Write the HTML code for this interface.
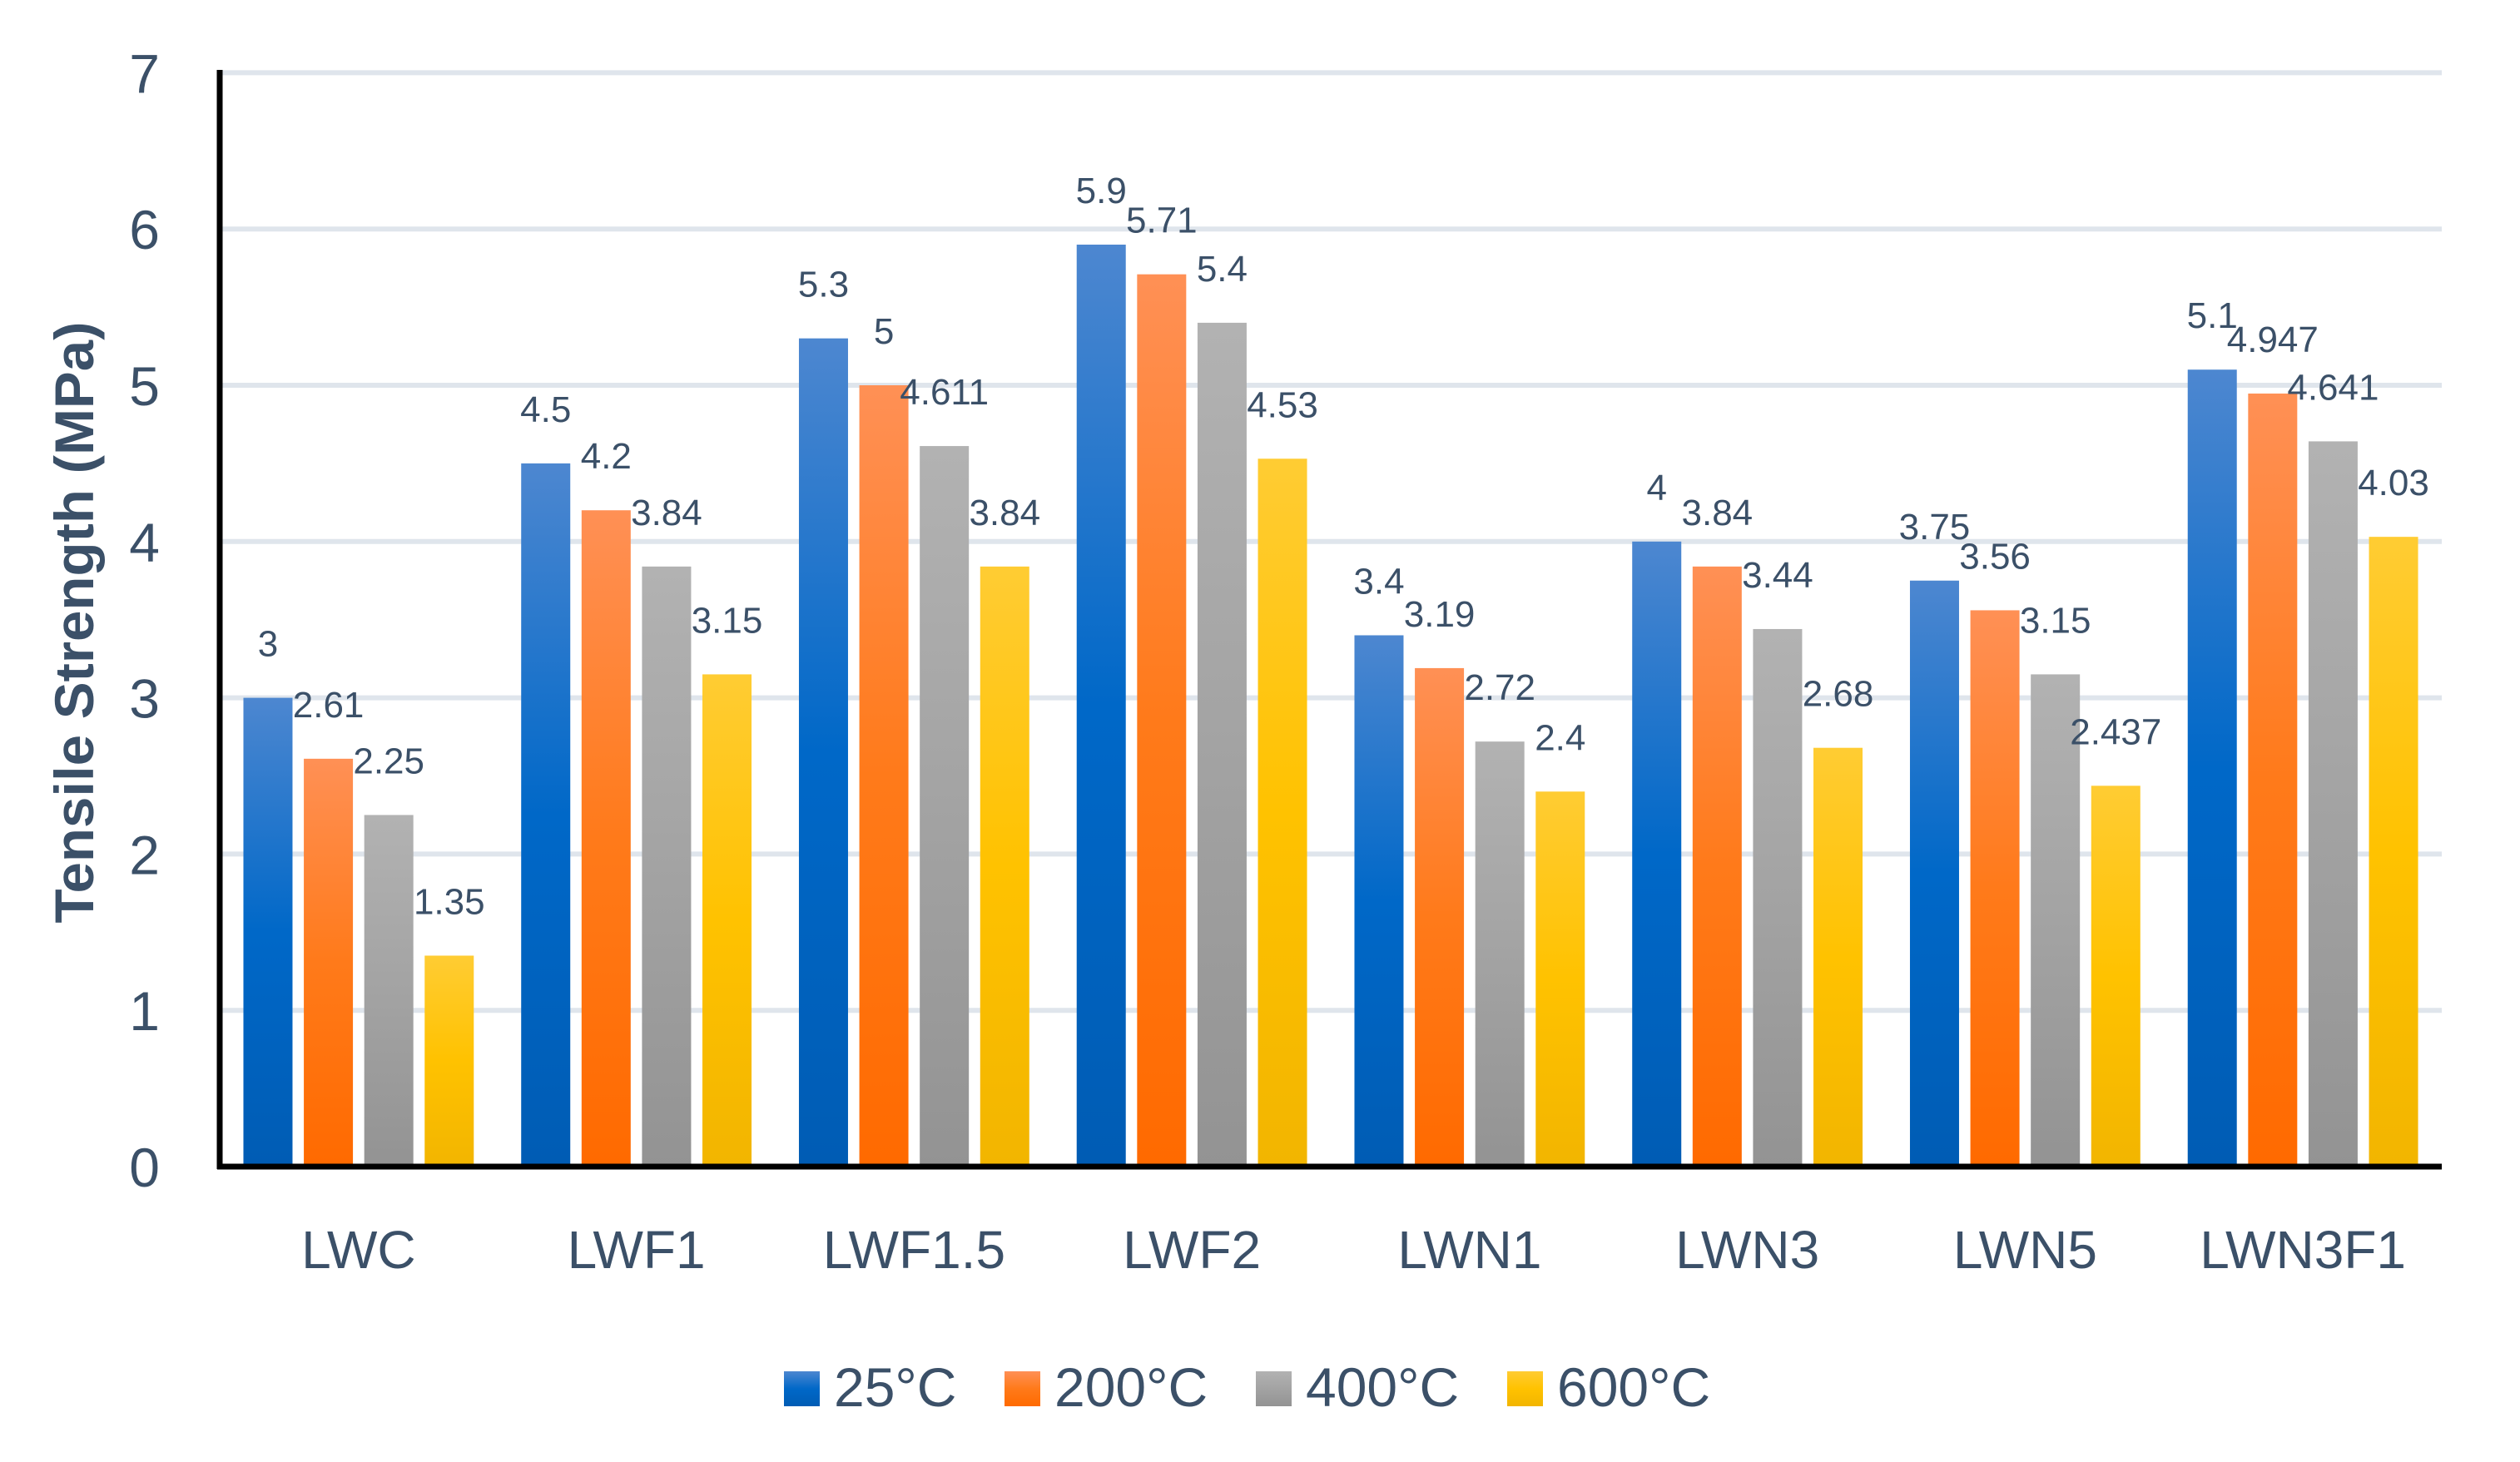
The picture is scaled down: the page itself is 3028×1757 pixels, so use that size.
<!DOCTYPE html>
<html><head><meta charset="utf-8"><style>
html,body{margin:0;padding:0;background:#fff;}
svg{display:block;font-family:"Liberation Sans",sans-serif;}
</style></head><body>
<svg id="chart" width="3028" height="1757" viewBox="0 0 3028 1757">
<defs>
<linearGradient id="g0" x1="0" y1="0" x2="0" y2="1"><stop offset="0" stop-color="#4d87d0"/><stop offset="0.5" stop-color="#0068c8"/><stop offset="1" stop-color="#005cb4"/></linearGradient>
<linearGradient id="g1" x1="0" y1="0" x2="0" y2="1"><stop offset="0" stop-color="#ff9055"/><stop offset="0.5" stop-color="#ff7a1a"/><stop offset="1" stop-color="#ff6a00"/></linearGradient>
<linearGradient id="g2" x1="0" y1="0" x2="0" y2="1"><stop offset="0" stop-color="#b2b2b2"/><stop offset="0.5" stop-color="#a3a3a3"/><stop offset="1" stop-color="#939393"/></linearGradient>
<linearGradient id="g3" x1="0" y1="0" x2="0" y2="1"><stop offset="0" stop-color="#ffcc33"/><stop offset="0.5" stop-color="#ffc200"/><stop offset="1" stop-color="#f2b500"/></linearGradient>
</defs>
<g id="grid"></g>
<g id="bars"></g>
<g id="labels"></g>
<g id="axes"></g>
<text transform="translate(112,748) rotate(-90)" text-anchor="middle" font-size="66" font-weight="bold" fill="#3b5068" textLength="723" lengthAdjust="spacingAndGlyphs">Tensile Strength  (MPa)</text>
<g id="legend"></g>
</svg>
<script>
const categories = ["LWC","LWF1","LWF1.5","LWF2","LWN1","LWN3","LWN5","LWN3F1"];
const seriesNames = ["25°C","200°C","400°C","600°C"];
const s25 = [3, 4.5, 5.3, 5.9, 3.4, 4, 3.75, 5.1];
const s200 = [2.61, 4.2, 5, 5.71, 3.19, 3.84, 3.56, 4.947];
const s400 = [2.25, 3.84, 4.611, 5.4, 2.72, 3.44, 3.15, 4.641];
const s600 = [1.35, 3.15, 3.84, 4.53, 2.4, 2.68, 2.437, 4.03];
const yTicks = [0,1,2,3,4,5,6,7];

const NS = "http://www.w3.org/2000/svg";
const series = [s25, s200, s400, s600];
const fills = ["url(#g0)","url(#g1)","url(#g2)","url(#g3)"];
const legendFills = ["url(#g0)","url(#g1)","url(#g2)","url(#g3)"];
const L = 264, R = 2934, Y0 = 1402, UNIT = 187.8;
const catW = (R - L) / categories.length;
const barW = 59, stride = 72.6;
function y(v){ return Y0 - v * UNIT; }
function xBar(ci, si){ return L + ci * catW + (catW - (4 * stride - (stride - barW))) / 2 + si * stride; }
function mk(tag, attrs, parent){ const e = document.createElementNS(NS, tag); for (const k in attrs) e.setAttribute(k, attrs[k]); parent.appendChild(e); return e; }

const grid = document.getElementById('grid');
const axes = document.getElementById('axes');
yTicks.forEach(t => {
  if (t > 0) {
    const g = mk('line', {x1: L, x2: R, y1: y(t), y2: y(t), stroke: '#dfe5ec', 'stroke-width': 6}, grid);
    
    
  }
  const tl = mk('text', {x: 192, y: y(t) + 24, 'text-anchor': 'end', 'font-size': 66, fill: '#3b5068'}, axes);
  tl.textContent = t;
  
  
});

const bars = document.getElementById('bars');
const labels = document.getElementById('labels');
categories.forEach((c, ci) => {
  series.forEach((s, si) => {
    const v = s[ci];
    const x = xBar(ci, si);
    const r = mk('rect', {x: x, y: y(v), width: barW, height: Y0 - y(v), fill: fills[si]}, bars);
    
    
    const t = mk('text', {x: x + barW / 2, y: y(v) - 50, 'text-anchor': 'middle', 'font-size': 44, fill: '#3b5068'}, labels);
    t.textContent = v;
    
    
  });
  const cl = mk('text', {x: L + ci * catW + catW / 2, y: 1524, 'text-anchor': 'middle', 'font-size': 64, fill: '#3b5068'}, axes);
  cl.textContent = c;
  
  
});

const ya = mk('line', {x1: L, x2: L, y1: 84, y2: Y0 + 3, stroke: '#000', 'stroke-width': 7}, axes);


const xa = mk('line', {x1: L - 3, x2: R, y1: Y0, y2: Y0, stroke: '#000', 'stroke-width': 7}, axes);



const legend = document.getElementById('legend');
const lx = [942, 1207, 1509, 1811];
seriesNames.forEach((n, i) => {
  const g = mk('g', {}, legend);
  
  
  mk('rect', {x: lx[i], y: 1648, width: 43, height: 42, fill: legendFills[i]}, g);
  const t = mk('text', {x: lx[i] + 60, y: 1690, 'font-size': 66, fill: '#3b5068'}, g);
  t.textContent = n;
});
</script>
</body></html>
